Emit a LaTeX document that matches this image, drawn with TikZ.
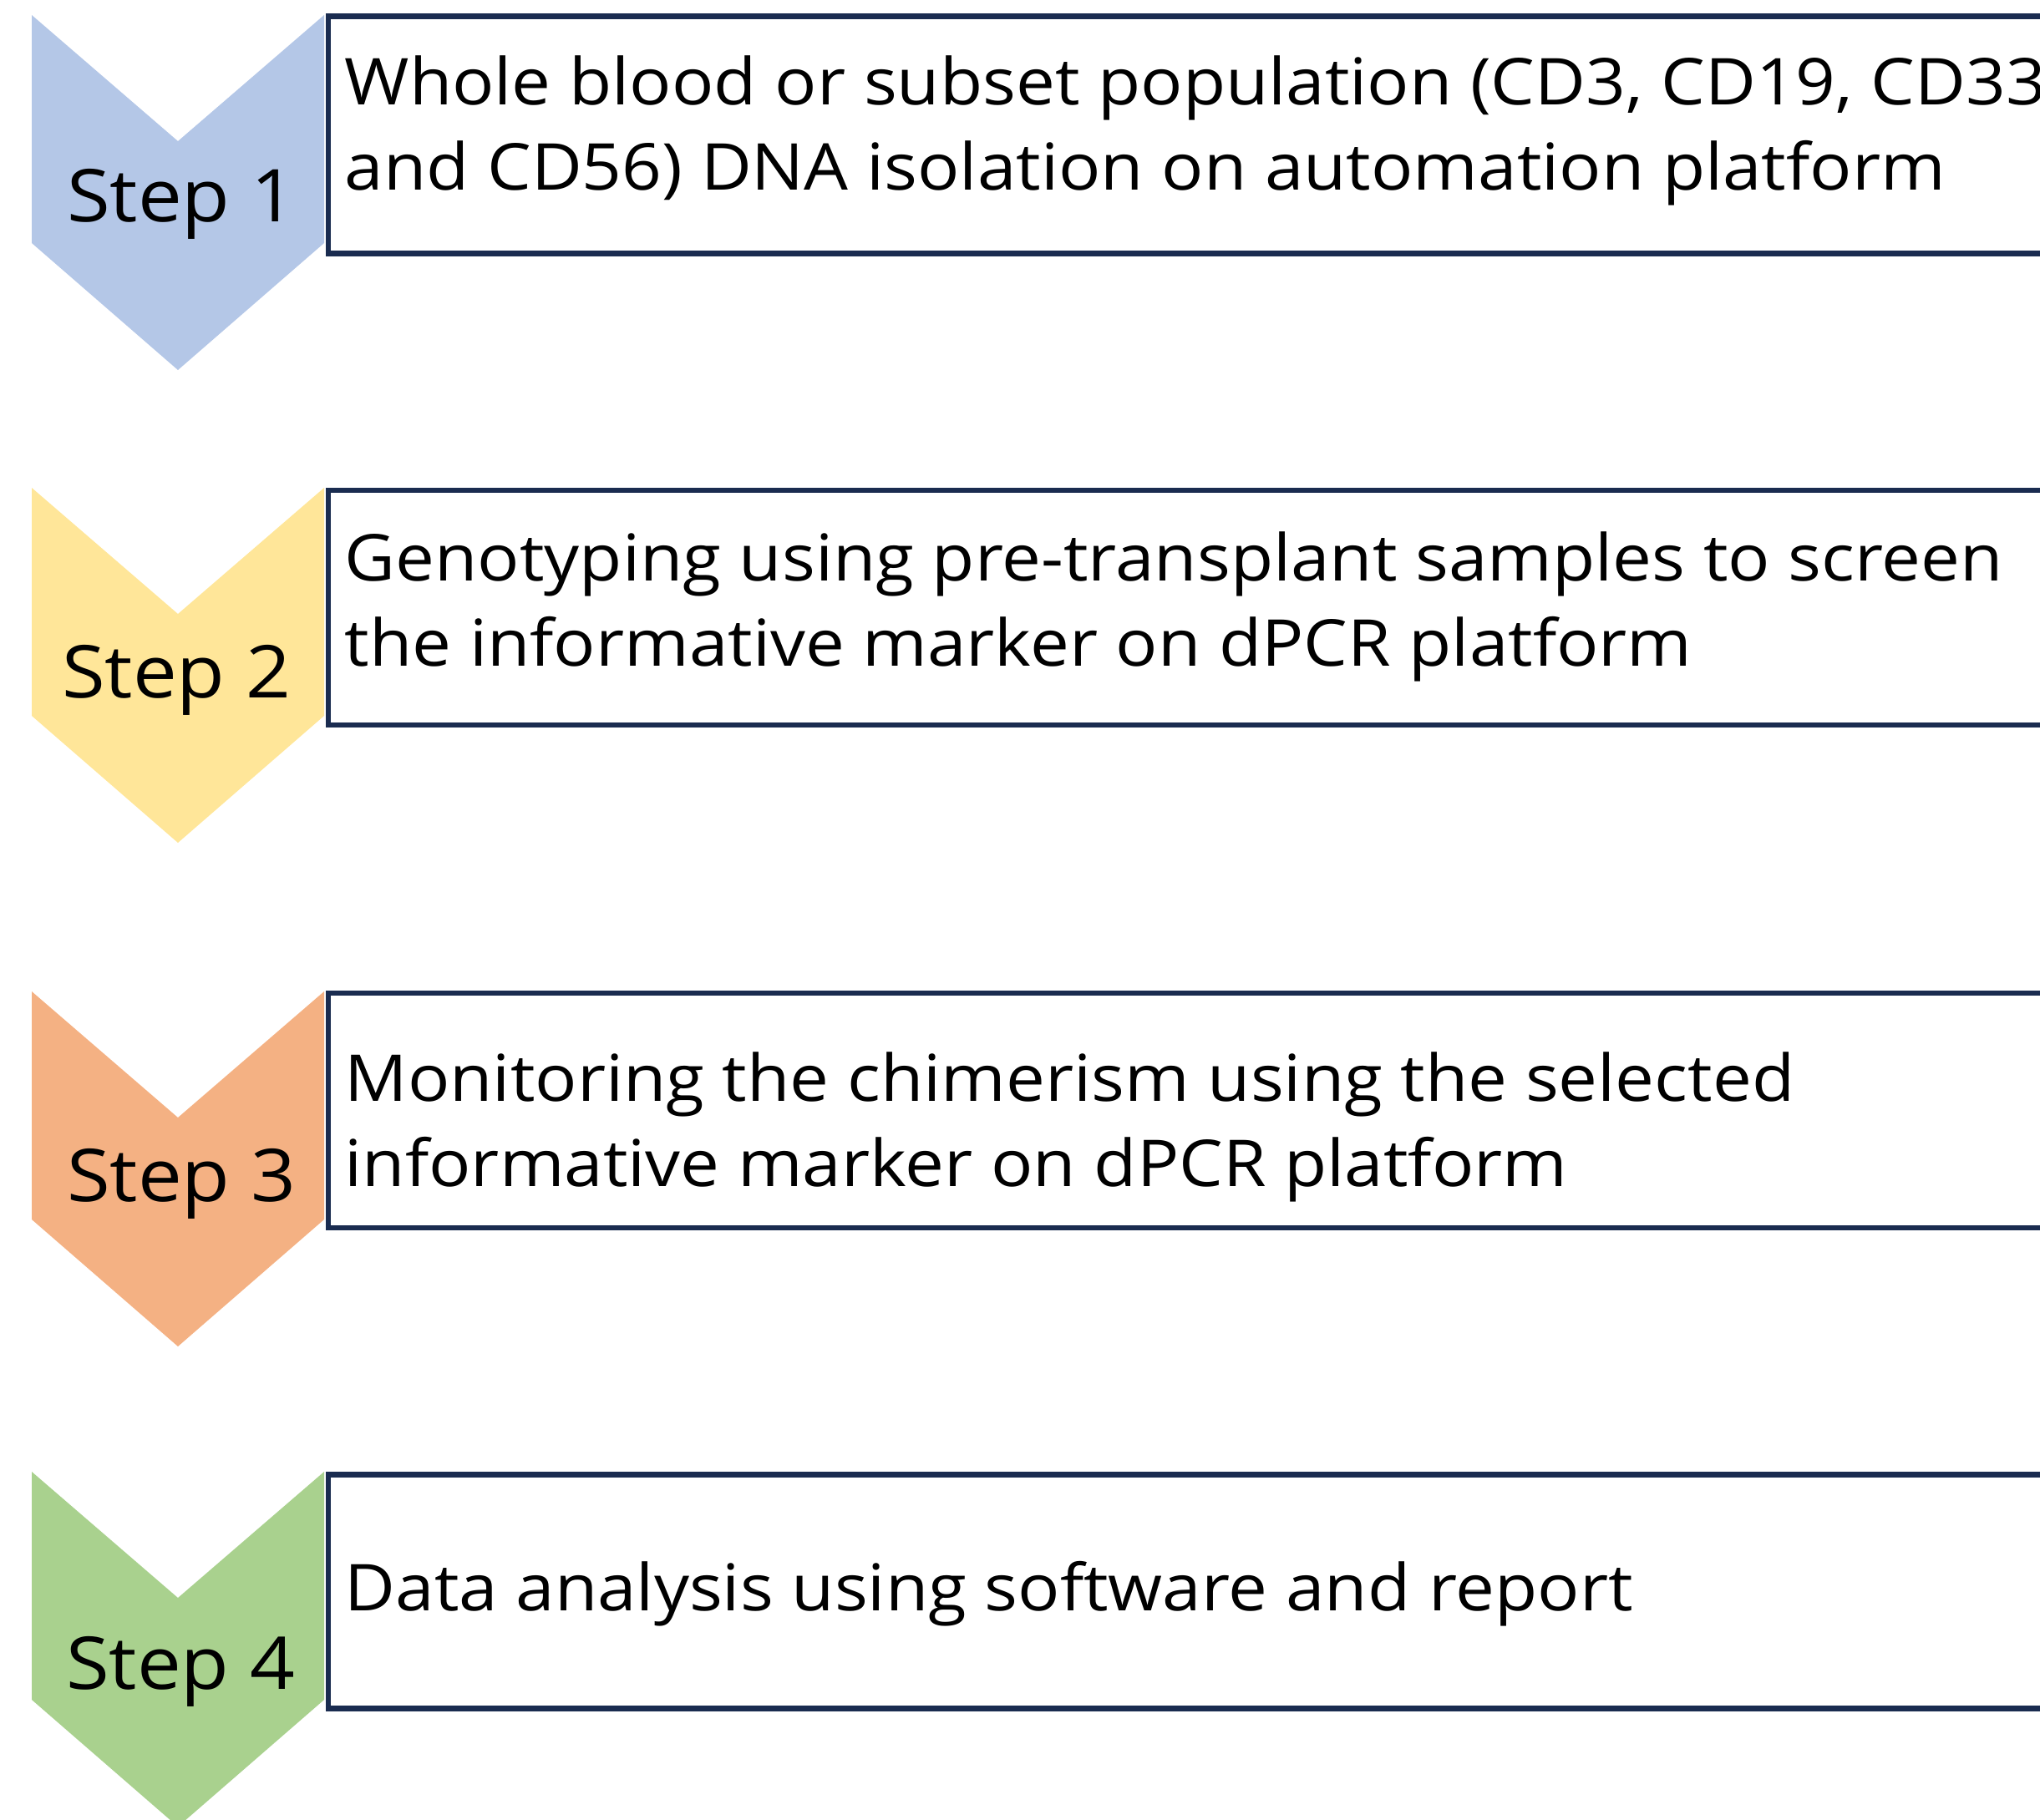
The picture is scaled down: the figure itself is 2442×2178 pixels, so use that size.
\documentclass[tikz,border=0pt]{standalone}
\usepackage{fontspec}
\setmainfont{Open Sans}[FakeStretch=1.08]
\definecolor{chevblue}{HTML}{B4C7E7}
\definecolor{chevyellow}{HTML}{FFE699}
\definecolor{chevorange}{HTML}{F4B183}
\definecolor{chevgreen}{HTML}{A9D18E}
\definecolor{navy}{HTML}{1A2C50}
\tikzset{
  stepbox/.style={draw=navy, line width=0.066cm, fill=white, inner sep=0pt, anchor=north west, minimum width=23cm},
  boxtext/.style={anchor=base west, inner sep=0pt, font=\fontsize{22}{26}\selectfont},
  steplabel/.style={anchor=base, inner sep=0pt, font=\fontsize{24.8}{29}\selectfont},
}
\newcommand{\chevronat}[2]{%
  \fill[#2] (38,#1) -- (213,#1+151) -- (388,#1) -- (388,#1+273) -- (213,#1+425) -- (38,#1+273) -- cycle;}
\begin{document}
\begin{tikzpicture}[x=0.01cm,y=-0.01cm]
\useasboundingbox (0,0) rectangle (2442,2178);
\clip (0,0) rectangle (2442,2178);
% chevrons
\chevronat{18}{chevblue}
\chevronat{584}{chevyellow}
\chevronat{1187}{chevorange}
\chevronat{1762}{chevgreen}
% boxes
\node[stepbox, minimum height=2.835cm] (box1) at (389.5,16.3) {};
\node[stepbox, minimum height=2.81cm] (box2) at (389.5,583.5) {};
\node[stepbox, minimum height=2.81cm] (box3) at (389.5,1185.5) {};
\node[stepbox, minimum height=2.80cm] (box4) at (389.5,1762) {};
% step labels
\node[steplabel] (s1) at (217,265) {Step 1};
\node[steplabel] (s2) at (211,835) {Step 2};
\node[steplabel] (s3) at (217,1438) {Step 3};
\node[steplabel] (s4) at (216,2022) {Step 4};
% texts
\node[boxtext] (t1a) at (412,125) {Whole blood or subset population (CD3, CD19, CD33,};
\node[boxtext] (t1b) at (412,227) {and CD56) DNA isolation on automation platform};
\node[boxtext] (t2a) at (412,695) {Genotyping using pre-transplant samples to screen};
\node[boxtext] (t2b) at (412,797) {the informative marker on dPCR platform};
\node[boxtext] (t3a) at (412,1318) {Monitoring the chimerism using the selected};
\node[boxtext] (t3b) at (412,1420) {informative marker on dPCR platform};
\node[boxtext] (t4) at (412,1928) {Data analysis using software and report};
\end{tikzpicture}
\end{document}
